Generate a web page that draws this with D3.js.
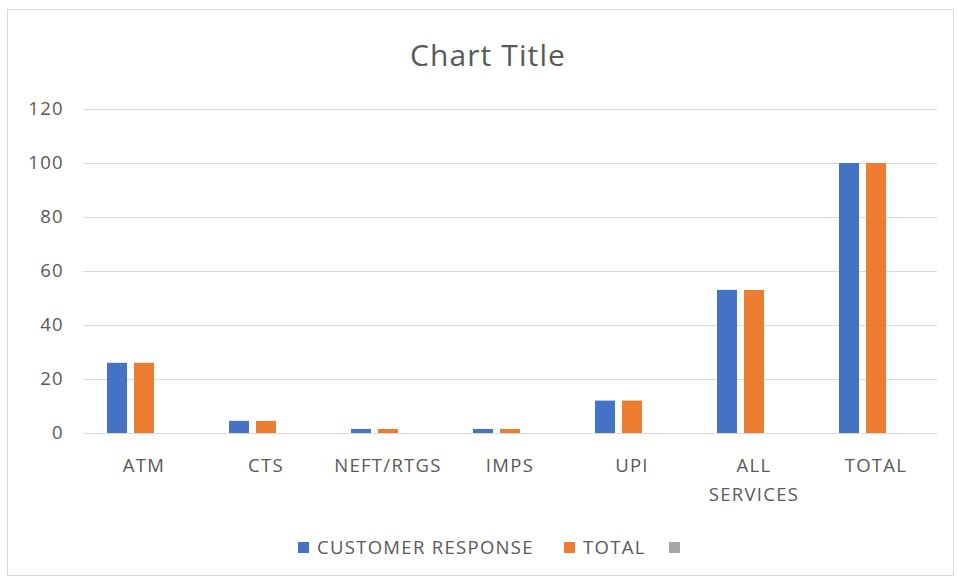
<!DOCTYPE html>
<html>
<head>
<meta charset="utf-8">
<script src="https://cdn.jsdelivr.net/npm/d3@7"></script>
<style>
  html, body { margin: 0; padding: 0; background: #fff; }
  svg { display: block; font-family: "Open Sans", "Liberation Sans", sans-serif; }
</style>
</head>
<body>
<svg id="chart" width="957" height="583"></svg>
<script>
// Complaint share by payment channel
const categories = ["ATM", "CTS", "NEFT/RTGS", "IMPS", "UPI", "ALL SERVICES", "TOTAL"];
const seriesNames = ["CUSTOMER RESPONSE", "TOTAL", ""];
const customerResponse = [26, 4.5, 1.5, 1.5, 12, 53, 100];
const totalValues = [26, 4.5, 1.5, 1.5, 12, 53, 100];
const thirdSeries = [null, null, null, null, null, null, null];
const yTicks = [0, 20, 40, 60, 80, 100, 120];
const colors = ["#4472C4", "#ED7D31", "#A5A5A5"];

const seriesValues = [customerResponse, totalValues, thirdSeries];

const FONT = "'Open Sans', sans-serif";
const LABEL_SIZE = 18.5;
const LABEL_SPACING = 1.3;

const svg = d3.select("#chart");
const plot = { left: 83, right: 937, top: 109, bottom: 433 };

// chart frame
svg.append("rect")
  .attr("x", 7.5).attr("y", 9.5)
  .attr("width", 946).attr("height", 566)
  .attr("fill", "#fff").attr("stroke", "#d9d9d9").attr("stroke-width", 1);

svg.append("text")
  .attr("x", 488).attr("y", 66)
  .attr("text-anchor", "middle")
  .attr("font-size", 30)
  .attr("letter-spacing", 1.1)
  .attr("fill", "#595959")
  .text("Chart Title");

const x = d3.scaleBand().domain(categories).range([plot.left, plot.right]).padding(0);
const y = d3.scaleLinear().domain([0, 120]).range([plot.bottom, plot.top]);
const inner = d3.scaleBand().domain(d3.range(seriesNames.length))
  .range([-37, 37]).paddingInner(0.26).paddingOuter(0);

// gridlines and value axis labels
const yAxis = d3.axisLeft(y).tickValues(yTicks).tickSize(-(plot.right - plot.left)).tickPadding(19);
const gy = svg.append("g").attr("transform", `translate(${plot.left},0)`).call(yAxis);
gy.select(".domain").remove();
gy.selectAll(".tick line").attr("stroke", "#d9d9d9").attr("stroke-width", 1);
gy.selectAll(".tick text")
  .attr("fill", "#595959")
  .attr("font-size", LABEL_SIZE)
  .attr("letter-spacing", LABEL_SPACING)
  .attr("font-family", FONT);

// bars
seriesValues.forEach((vals, si) => {
  svg.append("g").selectAll("rect")
    .data(categories.map((c, i) => ({ c, v: vals[i] })).filter(d => d.v != null))
    .join("rect")
    .attr("x", d => x(d.c) + x.bandwidth() / 2 + inner(si))
    .attr("width", inner.bandwidth())
    .attr("y", d => y(d.v))
    .attr("height", d => y(0) - y(d.v))
    .attr("fill", colors[si]);
});

// category axis
svg.append("line")
  .attr("x1", plot.left).attr("x2", plot.right)
  .attr("y1", plot.bottom + 0.5).attr("y2", plot.bottom + 0.5)
  .attr("stroke", "#d9d9d9");

const gx = svg.append("g");
categories.forEach(c => {
  const words = c === "ALL SERVICES" ? ["ALL", "SERVICES"] : [c];
  const cx = x(c) + x.bandwidth() / 2;
  const t = gx.append("text")
    .attr("x", cx)
    .attr("y", 472)
    .attr("text-anchor", "middle")
    .attr("font-size", LABEL_SIZE)
    .attr("letter-spacing", LABEL_SPACING)
    .attr("fill", "#595959");
  words.forEach((w, i) => {
    t.append("tspan").attr("x", cx).attr("dy", i === 0 ? 0 : 29).text(w);
  });
});

// legend
const legendItems = [
  { name: seriesNames[0], color: colors[0], x: 298 },
  { name: seriesNames[1], color: colors[1], x: 564 },
  { name: seriesNames[2], color: colors[2], x: 669 }
];
const lg = svg.append("g");
legendItems.forEach(d => {
  lg.append("rect").attr("x", d.x).attr("y", 542).attr("width", 11).attr("height", 11).attr("fill", d.color);
  lg.append("text").attr("x", d.x + 19).attr("y", 554)
    .attr("font-size", LABEL_SIZE)
    .attr("letter-spacing", LABEL_SPACING)
    .attr("fill", "#595959").text(d.name);
});
</script>
</body>
</html>
